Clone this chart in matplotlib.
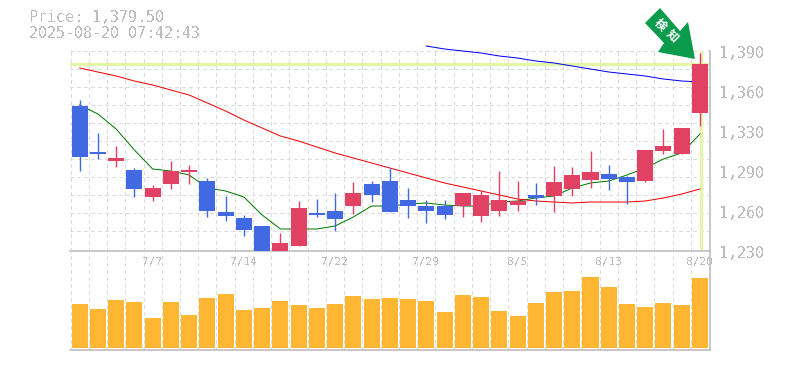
import matplotlib
matplotlib.use("Agg")
import matplotlib.pyplot as plt
from matplotlib.patches import Polygon, Rectangle

W, H = 785, 370
plt.rcParams['font.family'] = ['DejaVu Sans Mono']
plt.rcParams['lines.antialiased'] = False
plt.rcParams['text.antialiased'] = False

opens = [1345.6,1308.8,1301.6,1294.4,1272.8,1283.2,1292.8,1285.6,1260.8,1256,1249.6,1229.6,1233.6,1260,1261.6,1265.6,1283.2,1285.6,1270.4,1265.6,1265.6,1265.6,1257.6,1261.6,1266.4,1274.4,1273.6,1279.2,1286.4,1291.2,1288.8,1285.6,1309.6,1307.2,1340]
closes = [1304.8,1307.2,1304,1279.2,1280,1293.6,1294.4,1261.6,1257.6,1246.4,1225.6,1236,1264,1258.4,1255.2,1276,1274.4,1260.8,1265.6,1261.6,1258.4,1276,1274.4,1270.4,1269.6,1272,1284.8,1290.4,1292.8,1287.2,1284.8,1310.4,1313.6,1328,1379.5]
highs = [1350.4,1324,1313.6,1296,1282.4,1301.6,1298.4,1288,1273.6,1258.4,1249.6,1244,1269.6,1271.2,1276,1284.8,1285.6,1296,1280,1270.4,1270.4,1276,1278.4,1293.6,1285.6,1284,1297.6,1296.8,1309.6,1298.4,1289.6,1310.4,1327.2,1328,1388]
lows = [1293.6,1303.2,1296.8,1272.8,1269.6,1279.2,1283.2,1256.8,1253.6,1241.6,1225.6,1229.6,1233.6,1256.8,1245.6,1259.2,1268.8,1260.8,1256,1252,1255.2,1256.8,1252.8,1257.6,1261.6,1266.4,1260.8,1273.6,1280,1278.4,1267.2,1284.8,1307.2,1307.2,1329.6]
ma_short = [1346.4,1339.2,1327.2,1310.4,1295.2,1293.6,1290.4,1280,1277.6,1272.8,1258.4,1247.2,1247.2,1247.2,1249.6,1256.8,1265.6,1265.6,1267.2,1268,1266.4,1265.6,1265.6,1268.8,1269.6,1272,1273.6,1280,1284,1285.6,1290.4,1296,1303.2,1308,1323.2]
ma_mid = [1376,1372.8,1369.6,1365.6,1362.4,1358.4,1354.4,1348,1341.6,1334.4,1328,1321.6,1317.6,1312.8,1308,1304,1300,1296,1292,1288,1284,1280.8,1277.6,1274.4,1271.2,1269.6,1268.8,1268,1268.8,1268.8,1268.8,1269.6,1272,1275.2,1279.2]
ma_long = [1393.6,1391.2,1389.6,1388,1385.6,1384,1381.6,1380,1377.6,1375.2,1372.8,1371.2,1369.6,1367.2,1365.6,1364.8]
ma_long_start = 19
volumes = [44,39,48,46,30,46,33,50,54,38,40,47,43,40,44,52,49,50,49,47,36,53,51,37,32,45,56,57,71,61,44,41,45,43,70]
tick_idx = [4,9,14,19,24,29,34]
tick_labels = ["7/7","7/14","7/22","7/29","8/5","8/13","8/20"]
y_labels = ["1,390","1,360","1,330","1,290","1,260","1,230"]
y_label_values = [1390,1358,1326,1294,1262,1230]
last_price = "Price: 1,379.50"
stamp = "2025-08-20 07:42:43"

UP = "#E14162"; DOWN = "#4169E1"; VOL = "#FFB733"
GRID = "#DCDCDC"; FRAME = "#BFBFBF"; TXT = "#BDBDBD"; HL = "#E4F5A8"
GREEN = "#0B9B4C"
THIN = 0.75
DASH = (0, (3, 3))

fig = plt.figure(figsize=(W/100, H/100), dpi=100, facecolor="white")
L, R = 70/W, 710/W
ax = fig.add_axes([L, 1-250.5/H, R-L, 200/H])
av = fig.add_axes([L, 1-350/H, R-L, 99.5/H], sharex=ax)
n = len(closes)
xs = list(range(n))
step = 18.235

for a in (ax, av):
    a.set_facecolor("none")
    a.set_axisbelow(True)
    a.set_xticks([i-0.5 for i in range(n)])
    a.tick_params(length=0, labelbottom=False, labelleft=False)
    a.xaxis.grid(True, color=GRID, lw=THIN, ls=DASH)
    for s in a.spines.values():
        s.set_visible(False)
    for side in ('bottom', 'right'):
        a.spines[side].set_visible(True)
        a.spines[side].set_color(FRAME)
        a.spines[side].set_linewidth(1.2)
ax.set_xlim(-0.53, 34.55)
ax.set_ylim(1230, 1390)
av.set_ylim(-2, 97.5)

ax.set_yticks([1389.6 - 14.4*k for k in range(11)])
ax.yaxis.grid(True, color=GRID, lw=THIN, ls=DASH)

ax.axhline(closes[-1], color=HL, lw=2.4, zorder=2, antialiased=True)
ax.axvline(n-1+0.03, color=HL, lw=2.2, zorder=2, ymin=0.005, ymax=0.995, antialiased=True)

line_opts = dict(lw=0.72, zorder=3, antialiased=True, solid_joinstyle="miter")
ax.plot(xs, ma_short, color="#007A00", **line_opts)
ax.plot(xs, ma_mid, color="#F00000", **line_opts)
ax.plot(xs[ma_long_start:], ma_long, color="#0000F0", clip_on=False, **line_opts)

for i in xs:
    c = UP if closes[i] >= opens[i] else DOWN
    ax.vlines(i, lows[i], highs[i], color=c, lw=1.0, zorder=4, antialiased=True)
    ax.add_patch(Rectangle((i-8/step, min(opens[i], closes[i])), 16/step, abs(closes[i]-opens[i]),
                           fc=c, ec="none", zorder=5, antialiased=True))

av.bar(xs, volumes, width=16/step, color=VOL, zorder=3, antialiased=True)

for lab, v in zip(y_labels, y_label_values):
    y_px = 250.5 - (v-1230)/0.8 + 3
    fig.text(719.5/W, 1-y_px/H, lab, ha="left", va="center", fontsize=10.8, color=TXT)
for i, lab in zip(tick_idx, tick_labels):
    x_px = 80 + step*i
    fig.text((x_px-0.5)/W, 1-262/H, lab, ha="center", va="center", fontsize=8, color=TXT)

fig.text(29/W, 1-18/H, last_price, ha="left", va="center", fontsize=10.8, color=TXT)
fig.text(29/W, 1-33/H, stamp, ha="left", va="center", fontsize=10.8, color=TXT)

pts = [(660,8),(645,23),(664,43),(658,52),(695,59),(688,22),(680,31)]
fig.add_artist(Polygon([(x/W, 1-y/H) for x,y in pts], closed=True, transform=fig.transFigure,
                       fc=GREEN, ec="none", zorder=10, antialiased=True))
for ch, (cx, cy) in zip("検知", [(660.5,25), (672.5,36)]):
    fig.text(cx/W, 1-cy/H, ch, rotation=-45, rotation_mode="anchor", ha="center", va="center",
             fontsize=8.5, color="white", family=["Noto Sans CJK JP", "DejaVu Sans"], weight="bold",
             zorder=11, antialiased=True)

fig.savefig("out.png", dpi=100, facecolor="white")
